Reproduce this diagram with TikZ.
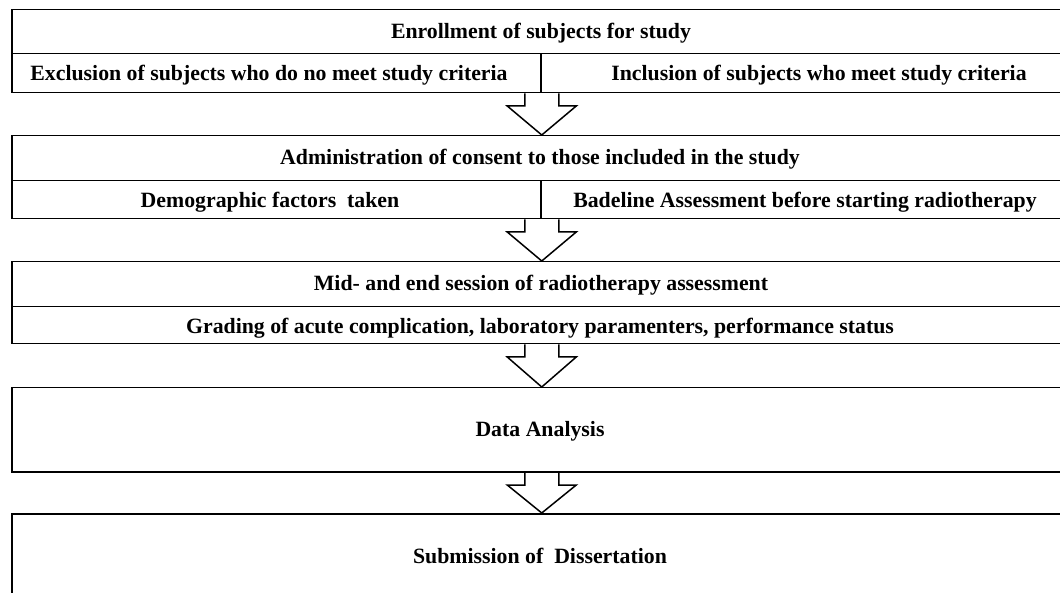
\documentclass[tikz,border=0pt]{standalone}
\usepackage{fontspec}
\setmainfont{Liberation Serif}
\usetikzlibrary{calc}
\begin{document}
\begin{tikzpicture}[x=1pt,y=-1pt, line width=1.5pt,
  cell/.style={draw, rectangle, inner sep=0pt, anchor=north west},
  lbl/.style={font=\fontsize{21.8}{24}\selectfont\bfseries, inner sep=0pt, anchor=base},
  blockarrow/.style={draw, line join=miter}]
\useasboundingbox (0,0) rectangle (1060,593);
\clip (0,0) rectangle (1060,593);
% boxes
\node[cell, minimum width=1060pt, minimum height=44pt] (enroll) at (11,9) {};
\node[cell, minimum width=529pt, minimum height=39pt] (excl) at (11,53) {};
\node[cell, minimum width=531pt, minimum height=39pt] (incl) at (540,53) {};
\node[cell, minimum width=1060pt, minimum height=45pt] (admin) at (11,135) {};
\node[cell, minimum width=529pt, minimum height=38pt] (demog) at (11,180) {};
\node[cell, minimum width=531pt, minimum height=38pt] (badel) at (540,180) {};
\node[cell, minimum width=1060pt, minimum height=45pt] (mid) at (11,261) {};
\node[cell, minimum width=1060pt, minimum height=37pt] (grade) at (11,306) {};
\node[cell, minimum width=1060pt, minimum height=84pt] (data) at (11,387) {};
\node[cell, minimum width=1060pt, minimum height=110pt] (subm) at (11,513) {};
% labels
\node[lbl] (tenroll) at (541,38.5) {Enrollment of subjects for study};
\node[lbl] (texcl) at (269,80.5) {Exclusion of subjects who do no meet study criteria};
\node[lbl] (tincl) at (819,80.5) {Inclusion of subjects who meet study criteria};
\node[lbl] (tadmin) at (540,164.5) {Administration of consent to those included in the study};
\node[lbl] (tdemog) at (270,207.5) {Demographic factors\ \ taken};
\node[lbl] (tbadel) at (805,207.5) {Badeline Assessment before starting radiotherapy};
\node[lbl] (tmid) at (541,290.5) {Mid- and end session of radiotherapy assessment};
\node[lbl] (tgrade) at (540,333.5) {Grading of acute complication, laboratory paramenters, performance status};
\node[lbl] (tdata) at (540,436.5) {Data Analysis};
\node[lbl] (tsubm) at (540,563.5) {Submission of\ \ Dissertation};
% block arrows
\newcommand\flowarrow[2]{%
  \draw[blockarrow] ($(#2|-#1)+(-17,0)$) -- ++(0,12.5) -- ++(-17.5,0) -- (#2)
    -- ($(#2|-#1)+(34.5,12.5)$) -- ++(-17.5,0) -- ++(0,-12.5);}
\flowarrow{excl.south east}{admin.north}
\flowarrow{demog.south east}{mid.north}
\flowarrow{grade.south}{data.north}
\flowarrow{data.south}{subm.north}
\end{tikzpicture}
\end{document}
